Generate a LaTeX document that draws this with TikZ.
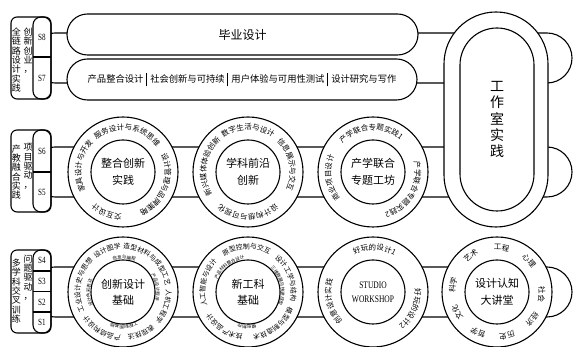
\documentclass[tikz,border=0pt]{standalone}
\usepackage{fontspec}
\newfontfamily\cjk{Noto Sans CJK SC}
\newfontfamily\narrowserif[FakeStretch=0.75]{Liberation Serif}
\usetikzlibrary{decorations.text}
\newcommand{\ringtext}[5]{\path[shift={(#1.center)},decorate,decoration={text along path,text align=center,text={|\cjk\fontsize{#4}{#4}\selectfont|#5}}] (#3+90:#2) arc[start angle=#3+90,end angle=#3-90,radius=#2];}
\newcommand{\barsep}{\hspace{2.5pt}\rule[-3.3pt]{1.3pt}{13.6pt}\hspace{3pt}}
\begin{document}
\begin{tikzpicture}[x=1pt,y=1pt,line width=1.1pt,
  band/.style={draw,fill=white,rounded corners=25pt},
  stagebox/.style={draw,fill=white,rounded corners=6pt,minimum width=40pt,minimum height=82pt,inner sep=0pt},
  stagecol/.style={draw,rounded corners=8pt,minimum width=18pt,minimum height=82pt,inner sep=0pt},
  boxtext/.style={font=\cjk\fontsize{9}{9.35}\selectfont,align=center,text width=9pt,inner sep=0pt},
  semlabel/.style={font=\narrowserif\fontsize{9.5}{9.5}\selectfont,inner sep=0pt},
  pill/.style={draw,fill=white,rounded corners=20.5pt,minimum height=41pt,inner sep=0pt},
  ring/.style={draw,fill=white,circle,minimum size=110pt,inner sep=0pt},
  core/.style={draw,fill=white,circle,minimum size=64pt,inner sep=0pt,align=center,font=\cjk\fontsize{11}{16.5}\selectfont}]
\useasboundingbox (0,0) rectangle (573,347);

\draw[band] (30,264) rectangle (572,314);
\draw[band] (30,150) rectangle (572,200);
\draw[band] (30,30) rectangle (572,80);

\node[stagebox] (stage3) at (31,289) {};
\node[stagecol] (col3) at (42,289) {};
\draw (33,290) -- (51,290);
\node[boxtext] (goal3a) at (16.5,287) {全\\链\\路\\设\\计\\实\\践};
\node[boxtext,anchor=north west,xshift=1.5pt] (goal3b) at (goal3a.north east) {创\\新\\创\\业\\，};
\node[semlabel] (s8) at (42,310) {S8};
\node[semlabel] (s7) at (42,269) {S7};

\node[stagebox] (stage2) at (31,176) {};
\node[stagecol] (col2) at (42,176) {};
\draw (33,175) -- (51,175);
\node[boxtext] (goal2a) at (16.5,175) {产\\教\\融\\合\\实\\践};
\node[boxtext,anchor=north west,xshift=1.5pt,yshift=1pt] (goal2b) at (goal2a.north east) {项\\目\\驱\\动\\，};
\node[semlabel] (s6) at (42,196) {S6};
\node[semlabel] (s5) at (42,155) {S5};

\node[stagebox,minimum height=83pt] (stage1) at (31,55.5) {};
\node[stagecol,minimum height=83pt] (col1) at (42,55.5) {};
\draw (33,76) -- (51,76);
\draw (33,55.5) -- (51,55.5);
\draw (33,35) -- (51,35);
\node[boxtext] (goal1a) at (16.5,56) {多\\学\\科\\交\\叉\\训\\练};
\node[boxtext,anchor=north west,xshift=1.5pt,yshift=4pt] (goal1b) at (goal1a.north east) {问\\题\\驱\\动\\，};
\node[semlabel] (s4) at (42,86.5) {S4};
\node[semlabel] (s3) at (42,65.5) {S3};
\node[semlabel] (s2) at (42,45) {S2};
\node[semlabel] (s1) at (42,24.5) {S1};

\node[pill,minimum width=351pt,font=\cjk\fontsize{12}{12}\selectfont] (thesis) at (242.5,312.5) {毕业设计};
\node[pill,minimum width=350pt,font=\cjk\fontsize{9.3}{9.3}\selectfont] (topics) at (242,267.5) {产品整合设计\barsep 社会创新与可持续\barsep 用户体验与可用性测试\barsep 设计研究与写作};

\node[ring] (mid1) at (123,175) {};
\node[core] (mid1c) at (mid1) {整合创新\\实践};
\node[ring] (mid2) at (248,175) {};
\node[core] (mid2c) at (mid2) {学科前沿\\创新};
\node[ring] (mid3) at (373,175) {};
\node[core] (mid3c) at (mid3) {产学联合\\专题工坊};

\node[ring] (low1) at (123,55) {};
\node[core] (low1c) at (low1) {创新设计\\基础};
\node[ring] (low2) at (248,55) {};
\node[core] (low2c) at (low2) {新工科\\基础};
\node[ring] (low3) at (373,55) {};
\node[core,font=\narrowserif\fontsize{10}{14}\selectfont] (low3c) at (low3) {STUDIO\\WORKSHOP};
\node[ring] (low4) at (497,55) {};
\node[core] (low4c) at (low4) {设计认知\\大讲堂};

\node[draw,fill=white,rounded corners=52pt,minimum width=104pt,minimum height=215pt,inner sep=0pt] (studio) at (496,227.5) {};
\node[draw,fill=white,rounded corners=37pt,minimum width=74pt,minimum height=183pt,inner sep=0pt,align=center,font=\cjk\fontsize{14}{16.2}\selectfont] (studioc) at (497,227.5) {工\\作\\室\\实\\践};

\ringtext{mid1}{42}{171}{7.5}{家具设计与开发}
\ringtext{mid1}{42}{83}{7.5}{服务设计与系统思维}
\ringtext{mid1}{42}{-21}{7.5}{设计管理与品牌策略}
\ringtext{mid1}{42}{248}{7.5}{交互设计}

\ringtext{mid2}{42}{90}{7.5}{数字生活与设计}
\ringtext{mid2}{42}{11}{7.5}{信息展示与交互}
\ringtext{mid2}{42}{270}{7.5}{设计构想与可视化}
\ringtext{mid2}{42}{171}{7.5}{新兴媒体体验创新}

\ringtext{mid3}{42}{93}{7.5}{产学联合专题实践1}
\ringtext{mid3}{42}{-30}{7.5}{产学联合专题实践2}
\ringtext{mid3}{42}{188}{7.5}{商业项目设计}

\ringtext{low1}{43}{170}{6.8}{工业设计史与思想}
\ringtext{low1}{43}{111}{6.8}{设计图学}
\ringtext{low1}{43}{49}{6.8}{造型材料与成型工艺}
\ringtext{low1}{43}{-19}{6.8}{人机工程学}
\ringtext{low1}{43}{-66}{6.8}{表现技法}
\ringtext{low1}{43}{240}{6.8}{产品结构设计}
\ringtext{low1}{33}{88}{4.5}{信息与编程}
\ringtext{low1}{33}{8}{4.5}{产品设计程序}
\ringtext{low1}{33}{272}{4.5}{工程制图基础}
\ringtext{low1}{33}{181}{4.5}{设计色彩表达}

\ringtext{low2}{43}{167}{6.8}{人工智能与设计}
\ringtext{low2}{43}{92}{6.8}{原型控制与交互}
\ringtext{low2}{43}{20}{6.8}{设计工学与结构}
\ringtext{low2}{43}{-52}{6.8}{模型与制造技术}
\ringtext{low2}{43}{236}{6.8}{技术产品设计}
\ringtext{low2}{33}{127}{4.5}{产品材料整合设计}
\ringtext{low2}{33}{12}{4.5}{三维数据与快速成型}
\ringtext{low2}{33}{268}{4.5}{模型制作}

\ringtext{low3}{42}{88}{7.5}{好玩的设计1}
\ringtext{low3}{42}{-24}{7.5}{好玩的设计2}
\ringtext{low3}{42}{193}{7.5}{创意设计实践}

\ringtext{low4}{42}{126}{7.5}{艺术}
\ringtext{low4}{42}{84}{7.5}{工程}
\ringtext{low4}{42}{44}{7.5}{心理}
\ringtext{low4}{42}{-3}{7.5}{社会}
\ringtext{low4}{42}{-38}{7.5}{经济}
\ringtext{low4}{42}{-77}{7.5}{历史}
\ringtext{low4}{42}{245}{7.5}{哲学}
\ringtext{low4}{42}{207}{7.5}{文化}
\ringtext{low4}{42}{171}{7.5}{科学}
\end{tikzpicture}
\end{document}
